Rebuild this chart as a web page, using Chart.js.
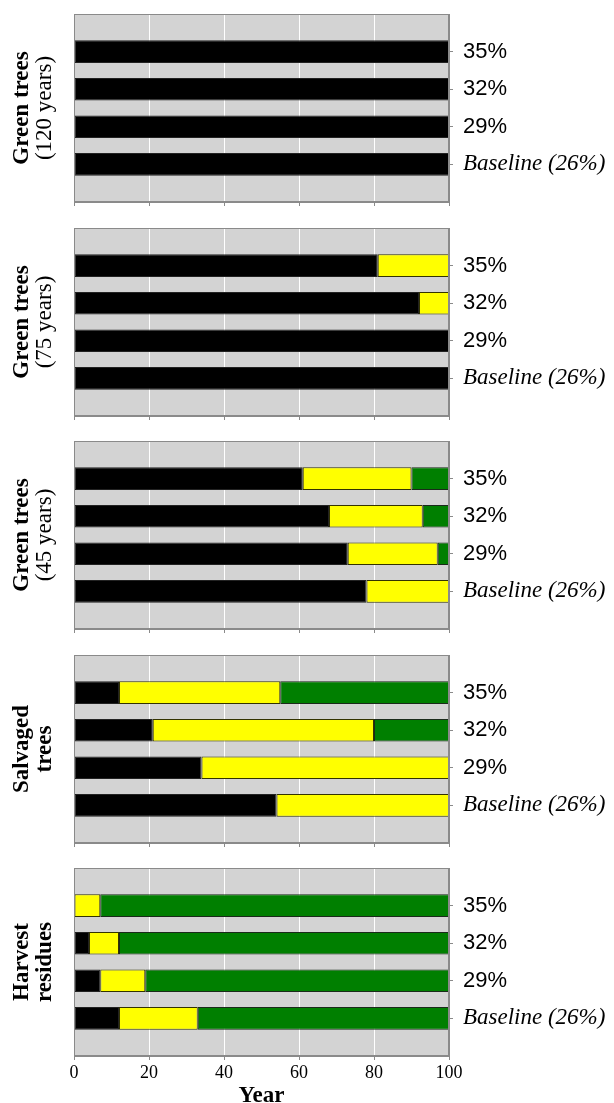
<!DOCTYPE html>
<html><head><meta charset="utf-8">
<script src="https://cdn.jsdelivr.net/npm/chart.js@4.4.1/dist/chart.umd.min.js"></script>
<style>
html,body{margin:0;padding:0;background:#fff;overflow:hidden;width:614px;height:1103px;position:relative}
canvas{position:absolute;left:0}
</style></head><body>
<script>
// Categories (top to bottom)
const categories = ['35%', '32%', '29%', 'Baseline (26%)'];
const xTickValues = [0, 20, 40, 60, 80, 100];
const xTitle = 'Year';

// Panel titles
const titleGreen120 = ['Green trees', '(120 years)'];
const titleGreen75 = ['Green trees', '(75 years)'];
const titleGreen45 = ['Green trees', '(45 years)'];
const titleSalvaged = ['Salvaged', 'trees'];
const titleResidues = ['Harvest', 'residues'];

// Segment durations (years) per category: black, yellow, green
const green120Black = [100, 100, 100, 100];
const green120Yellow = [0, 0, 0, 0];
const green120Green = [0, 0, 0, 0];

const green75Black = [81, 92, 100, 100];
const green75Yellow = [19, 8, 0, 0];
const green75Green = [0, 0, 0, 0];

const green45Black = [61, 68, 73, 78];
const green45Yellow = [29, 25, 24, 22];
const green45Green = [10, 7, 3, 0];

const salvagedBlack = [12, 21, 34, 54];
const salvagedYellow = [43, 59, 66, 46];
const salvagedGreen = [45, 20, 0, 0];

const residuesBlack = [0, 4, 7, 12];
const residuesYellow = [7, 8, 12, 21];
const residuesGreen = [93, 88, 81, 67];

const panels = [
  {title: titleGreen120, bold: [true, false], black: green120Black, yellow: green120Yellow, green: green120Green},
  {title: titleGreen75, bold: [true, false], black: green75Black, yellow: green75Yellow, green: green75Green},
  {title: titleGreen45, bold: [true, false], black: green45Black, yellow: green45Yellow, green: green45Green},
  {title: titleSalvaged, bold: [true, true], black: salvagedBlack, yellow: salvagedYellow, green: salvagedGreen},
  {title: titleResidues, bold: [true, true], black: residuesBlack, yellow: residuesYellow, green: residuesGreen}
];

const SERIF = '"Liberation Serif", "Times New Roman", serif';
const SANS = '"Liberation Sans", Arial, sans-serif';
const PLOT_H = 188;
const PAD_TOP = 14;
const GRID_GRAY = '#8a8a8a';

const panelDecor = {
  id: 'panelDecor',
  beforeDraw(chart) {
    const {ctx, chartArea: a} = chart;
    ctx.save();
    ctx.fillStyle = '#d3d3d3';
    ctx.fillRect(a.left, a.top, a.right - a.left, a.bottom - a.top);
    ctx.restore();
  },
  afterDatasetsDraw(chart) {
    const {ctx, chartArea: a} = chart;
    ctx.save();
    ctx.strokeStyle = GRID_GRAY;
    ctx.lineWidth = 1;
    ctx.strokeRect(Math.round(a.left) + 0.5, Math.round(a.top) + 0.5,
      Math.round(a.right - a.left) - 1, Math.round(a.bottom - a.top) - 1);
    ctx.restore();
  },
  afterDraw(chart, args, opts) {
    const {ctx, chartArea: a} = chart;
    const cy = (a.top + a.bottom) / 2;
    const xs = [28, 51];
    ctx.save();
    ctx.fillStyle = '#000';
    ctx.textAlign = 'center';
    ctx.textBaseline = 'alphabetic';
    opts.lines.forEach((t, i) => {
      ctx.save();
      ctx.translate(xs[i], cy);
      ctx.rotate(-Math.PI / 2);
      ctx.font = (opts.bold[i] ? 'bold ' : '') + '23px ' + SERIF;
      ctx.fillText(t, 0, 0);
      ctx.restore();
    });
    ctx.restore();
  }
};

panels.forEach((p, i) => {
  const last = i === panels.length - 1;
  const chartTop = 14 + i * 213.5;
  const canvasTop = Math.round(chartTop) - PAD_TOP;
  const height = last ? (1110 - canvasTop) : (PAD_TOP + PLOT_H + 16);
  const xAxisH = last ? (height - PAD_TOP - PLOT_H) : 8;
  const padBottom = last ? 0 : 8;

  const cv = document.createElement('canvas');
  cv.width = 614; cv.height = height;
  cv.style.top = canvasTop + 'px';
  cv.style.width = '614px'; cv.style.height = height + 'px';
  document.body.appendChild(cv);

  const labels = ['', ...categories, ''];
  const pad = arr => [null, ...arr, null];
  const isEdge = idx => idx === 0 || idx === labels.length - 1;

  new Chart(cv, {
    type: 'bar',
    data: {
      labels: labels,
      datasets: [
        {label: 'black', data: pad(p.black), backgroundColor: '#000000', borderColor: '#222222'},
        {label: 'yellow', data: pad(p.yellow), backgroundColor: '#ffff00', borderColor: '#333300'},
        {label: 'green', data: pad(p.green), backgroundColor: '#007f00', borderColor: '#1a2a1a'}
      ]
    },
    options: {
      indexAxis: 'y',
      responsive: false,
      animation: false,
      devicePixelRatio: 1,
      layout: {padding: {left: 74, right: 0, top: PAD_TOP, bottom: padBottom}},
      datasets: {bar: {barPercentage: 0.6, categoryPercentage: 1, borderWidth: 1, borderSkipped: false}},
      plugins: {
        legend: {display: false},
        tooltip: {enabled: false},
        panelDecor: {lines: p.title, bold: p.bold}
      },
      scales: {
        x: {
          type: 'linear',
          stacked: true,
          min: 0, max: 100,
          afterBuildTicks: s => { s.ticks = xTickValues.map(v => ({value: v})); },
          afterFit: s => { s.height = xAxisH; },
          grid: {color: '#ffffff', lineWidth: 1, tickLength: 4, tickColor: GRID_GRAY, drawTicks: true},
          border: {display: true, color: GRID_GRAY},
          ticks: {display: last, padding: 2, color: '#000', font: {family: SERIF, size: 18}},
          title: {display: last, text: xTitle, color: '#000', font: {family: SERIF, size: 23, weight: 'bold'}, padding: {top: 0, bottom: 0}}
        },
        y: {
          type: 'category',
          stacked: true,
          position: 'right',
          offset: false,
          afterFit: s => { s.width = 614 - 449; },
          grid: {offset: false, drawOnChartArea: false, drawTicks: true, tickLength: 4,
            tickColor: c => isEdge(c.index) ? 'rgba(0,0,0,0)' : GRID_GRAY},
          border: {display: true, color: GRID_GRAY},
          ticks: {
            padding: 10,
            color: '#000',
            autoSkip: false,
            font: c => isEdge(c.index) ? {family: SANS, size: 22, lineHeight: 0} :
              (c.index === 4 ? {family: SERIF, size: 23, style: 'italic'} : {family: SANS, size: 22})
          }
        }
      }
    },
    plugins: [panelDecor]
  });
});
</script>
</body></html>
